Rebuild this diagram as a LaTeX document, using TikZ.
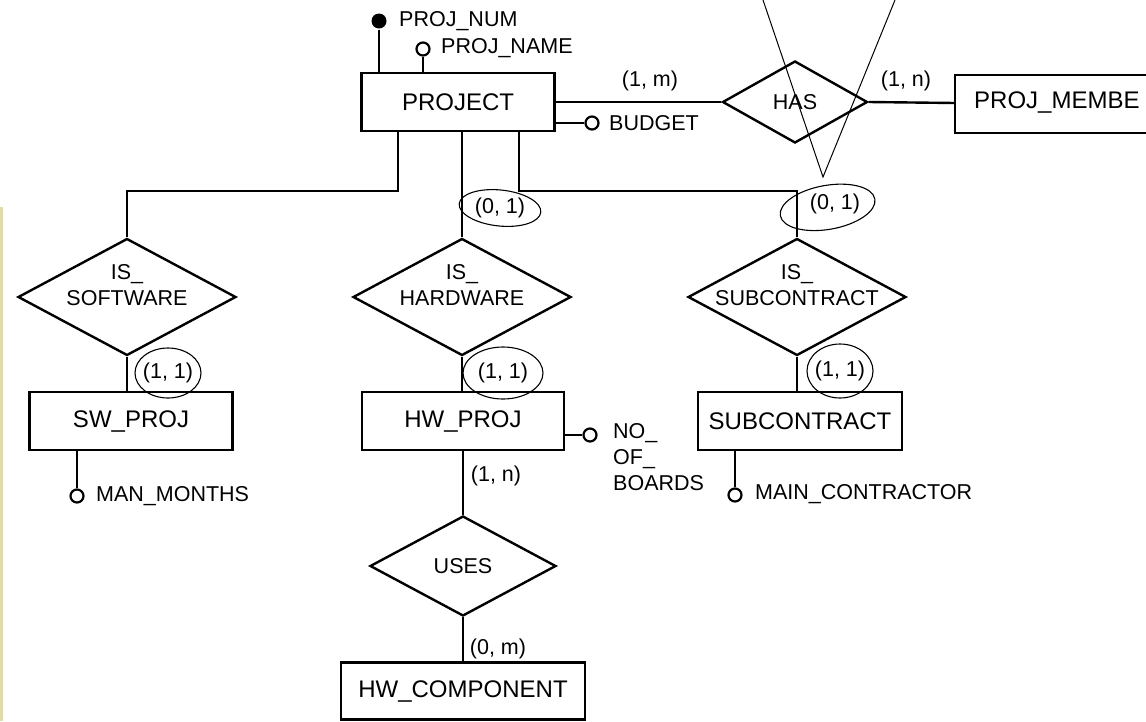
\documentclass[tikz,border=0pt]{standalone}
\usepackage{fontspec}
\setmainfont{Liberation Sans}
\usepackage{tikz}
\usetikzlibrary{shapes.geometric, positioning}

\definecolor{scanedge}{RGB}{224,218,172}
\newcommand{\attfont}{\fontsize{21.5}{26}\selectfont}
\newcommand{\entfont}{\fontsize{24}{28}\selectfont}

\tikzset{
  entity/.style={draw, line width=2.4pt, rectangle, minimum height=58pt, inner sep=0pt, font=\entfont},
  rel/.style={draw, line width=2.4pt, diamond, inner sep=0pt},
  reltext/.style={align=center, inner sep=0pt, font=\attfont},
  isatext/.style={reltext, yshift=12pt},
  attr/.style={anchor=west, inner sep=0pt, font=\attfont},
  card/.style={inner sep=0pt, font=\attfont},
  keydot/.style={circle, fill, minimum size=15pt, inner sep=0pt},
  optdot/.style={circle, draw, line width=2.2pt, minimum size=13pt, inner sep=0pt},
  scribble/.style={line width=1.1pt},
}

\begin{document}
\begin{tikzpicture}[x=1pt, y=-1pt, node distance=2cm, on grid, line width=2.4pt]
        \useasboundingbox (0,0) rectangle (1146,721);
        \fill[scanedge] (0,207) rectangle (3,721);

        % entities and relationships
        \node[entity, minimum width=193pt] (project) at (458,102) {PROJECT};
        \node[rel, minimum width=145pt, minimum height=82pt, right=337pt of project,
              label={[reltext]center:HAS}] (has) {};
        \node[attr, minimum height=58pt, inner xsep=18pt, font=\entfont] (projmem) at (955,103) {PROJ\_MEMBE};

        \node[rel, minimum width=218pt, minimum height=117pt,
              label={[isatext]center:IS\_\\SOFTWARE}] (issw) at (127,297) {};
        \node[rel, minimum width=218pt, minimum height=117pt, right=335pt of issw,
              label={[isatext]center:IS\_\\HARDWARE}] (ishw) {};
        \node[rel, minimum width=218pt, minimum height=117pt, right=335pt of ishw,
              label={[isatext]center:IS\_\\SUBCONTRACT}] (issub) {};

        \node[entity, minimum width=203pt] (swproj) at (131,421) {SW\_PROJ};
        \node[entity, minimum width=202pt, right=332pt of swproj] (hwproj) {HW\_PROJ};
        \node[entity, minimum width=204pt, right=337pt of hwproj] (subcon) {SUBCONTRACT};

        \node[rel, minimum width=186pt, minimum height=100pt, below=145pt of hwproj,
              label={[reltext]center:USES}] (uses) {};
        \node[entity, minimum width=244pt, minimum height=57pt, below=125pt of uses] (hwcomp) {HW\_COMPONENT};

        % attributes
        \node[keydot] (pnum) at (379,21) {};
        \node[attr] (pnumtxt) at (398,21) {PROJ\_NUM};
        \node[optdot] (pname) at (423,49) {};
        \node[attr] (pnametxt) at (440,48) {PROJ\_NAME};
        \node[optdot] (budget) at (592,123) {};
        \node[attr] (budgettxt) at (608,123) {BUDGET};
        \node[optdot] (manm) at (77,496) {};
        \node[attr] (manmtxt) at (95,496) {MAN\_MONTHS};
        \node[optdot] (nob) at (590,435) {};
        \node[attr, anchor=north west, align=left] (nobtxt) at (612,422) {NO\_\\OF\_\\BOARDS};
        \node[optdot] (mainc) at (735,495) {};
        \node[attr] (mainctxt) at (754,494) {MAIN\_CONTRACTOR};

        % cardinalities
        \node[card] (c1m) at (650,81) {(1, m)};
        \node[card] (c1n) at (906,81) {(1, n)};
        \node[card] (c01hw) at (500,208) {(0, 1)};
        \node[card] (c01sub) at (835,204) {(0, 1)};
        \node[card] (c11sw) at (168,373) {(1, 1)};
        \node[card] (c11hw) at (503,373) {(1, 1)};
        \node[card] (c11sub) at (840,371) {(1, 1)};
        \node[card] (c1nuse) at (496,476) {(1, n)};
        \node[card] (c0muse) at (498,649) {(0, m)};

        % box of the member entity, cut by the edge
        \draw (1146,75) -| (projmem.west) |- (1146,133);

        \path
        (project.east |- has.west) edge (has.west)
        (has.east) edge (projmem.west)
        (pnum) edge (pnum |- project.north)
        (pname) edge (pname |- project.north)
        (project.east |- budget) edge (budget)
        (project.south -| ishw.north) edge (ishw.north)
        (issw.south) edge (issw.south |- swproj.north)
        (ishw.south) edge (ishw.south |- hwproj.north)
        (issub.south) edge (issub.south |- subcon.north)
        (manm) edge (manm |- swproj.south)
        (hwproj.east |- nob) edge (nob)
        (mainc) edge (mainc |- subcon.south)
        (hwproj.south) edge (uses.north)
        (uses.south) edge (hwcomp.north);

        \draw ([xshift=-60pt]project.south) -- ++(0,59) -| (issw.north);
        \draw ([xshift=61pt]project.south) -- ++(0,59) -| (issub.north);

        % pencil marks
        \draw[scribble, rotate around={-6:(c01hw)}] (c01hw) ellipse (41pt and 18pt);
        \draw[scribble, rotate around={10:(c01sub)}] ([xshift=-8pt,yshift=-2pt]c01sub) ellipse (48pt and 22pt);
        \draw[scribble] (c11sw) ellipse (33pt and 25pt);
        \draw[scribble] (c11hw) ellipse (40pt and 26pt);
        \draw[scribble] (c11sub) ellipse (33pt and 27pt);
        \draw[line width=1pt] (763,0) -- (823,177) -- (895,0);
    \end{tikzpicture}
\end{document}
